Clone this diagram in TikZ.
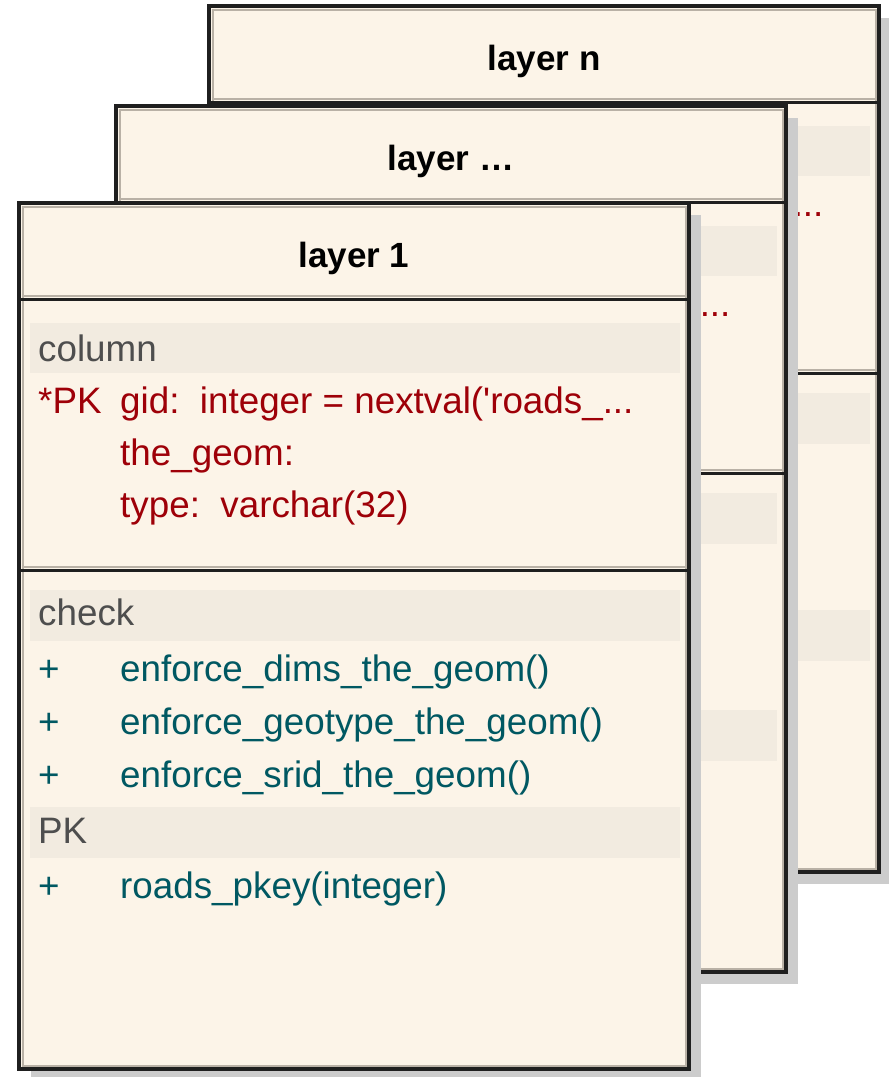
\documentclass[tikz,border=0pt]{standalone}
\usepackage{fontspec}
\setmainfont{Liberation Sans}

\definecolor{boxfill}{RGB}{252,244,232}
\definecolor{bandfill}{RGB}{242,235,224}
\definecolor{shadowgray}{RGB}{204,204,204}
\definecolor{bevel}{RGB}{185,177,166}
\definecolor{keyred}{RGB}{158,0,8}
\definecolor{opteal}{RGB}{0,88,98}
\definecolor{grouptext}{RGB}{78,78,78}

\begin{document}
\begin{tikzpicture}[x=1pt,y=-1pt]
		\tikzstyle{edge}=[line width=3.5pt,color=black!88];
		\tikzstyle{inner}=[line width=2pt,color=bevel];
		\tikzstyle{txt}=[inner sep=0pt,anchor=base west,
			font=\fontsize{36.8}{40}\selectfont];
		\tikzstyle{layertitle}=[txt,anchor=base,
			font=\fontsize{35}{40}\selectfont\bfseries];
		\tikzstyle{grouphead}=[txt,text=grouptext];
		\tikzstyle{colrow}=[txt,text=keyred];
		\tikzstyle{oprow}=[txt,text=opteal];

		\useasboundingbox(0,0)rectangle(889,1077);

		% back to front, each layer hides most of the one behind
		\foreach \bx/\by/\ly/\lname in {209/6/n/{layer n},116/106/m/{layer \ldots},19/203/1/{layer 1}}{
		\begin{scope}[shift={(\bx,\by)}]
			\fill[shadowgray](12,12)rectangle(682,878);
			\fill[boxfill](0,0)rectangle(670,866);
			\fill[bandfill](11,120)rectangle(661,170);
			\fill[bandfill](11,387)rectangle(661,438);
			\fill[bandfill](11,604)rectangle(661,655);
			\draw[inner](3.5,3.5)rectangle(666.5,862.5);
			\draw[inner](3.5,93)--(666.5,93)(3.5,364)--(666.5,364);
			\draw[edge](0,96.5)--(670,96.5)(0,367.5)--(670,367.5);
			\draw[edge](0,0)rectangle(670,866);

			\node[layertitle](title\ly)at(335,64){\lname};

			\node[grouphead](colhead\ly)at(19,158){column};
			\node[colrow](pk\ly)at(19,210){*PK};
			\node[colrow](gid\ly)at(101,210){gid:\ \ integer = nextval(\textquotesingle roads\_...};
			\node[colrow](geom\ly)at(101,262){the\_geom:};
			\node[colrow](type\ly)at(101,314){type:\ \ varchar(32)};

			\node[grouphead](checkhead\ly)at(19,422){check};
			\node[oprow](plusa\ly)at(19,478){+};
			\node[oprow](dims\ly)at(101,478){enforce\_dims\_the\_geom()};
			\node[oprow](plusb\ly)at(19,531){+};
			\node[oprow](geotype\ly)at(101,531){enforce\_geotype\_the\_geom()};
			\node[oprow](plusc\ly)at(19,584){+};
			\node[oprow](srid\ly)at(101,584){enforce\_srid\_the\_geom()};

			\node[grouphead](pkhead\ly)at(19,640){PK};
			\node[oprow](plusd\ly)at(19,695){+};
			\node[oprow](pkey\ly)at(101,695){roads\_pkey(integer)};
		\end{scope}
		}
	\end{tikzpicture}
\end{document}
